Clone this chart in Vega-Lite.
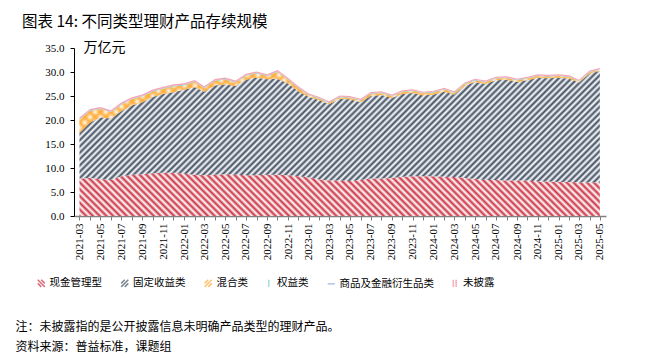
{
"$schema":"https://vega.github.io/schema/vega-lite/v6.json",
"width":532,"height":168,
"autosize":{"type":"none"},
"padding":{"left":74,"top":48,"right":46,"bottom":143},
"background":"#ffffff",
"title":{"text":"图表 14: 不同类型理财产品存续规模","anchor":"start","frame":"group","dx":-52,"dy":-5.5,"fontSize":15.5,"fontWeight":"normal","color":"#000000","font":"Noto Sans CJK SC"},
"config":{"font":"Noto Sans CJK SC","view":{"stroke":null}},
"data":{"values":[
{"d":"2021-03-01","cash":7.8,"fixed":9.5,"mixed":2.8,"equity":0.08,"commodity":0.02,"undisclosed":0.3},
{"d":"2021-04-01","cash":7.9,"fixed":11.6,"mixed":2.4,"equity":0.09,"commodity":0.02,"undisclosed":0.3},
{"d":"2021-05-01","cash":7.7,"fixed":12.8,"mixed":1.8,"equity":0.09,"commodity":0.02,"undisclosed":0.3},
{"d":"2021-06-01","cash":7.5,"fixed":12.8,"mixed":1.3,"equity":0.1,"commodity":0.02,"undisclosed":0.3},
{"d":"2021-07-01","cash":8.3,"fixed":13.5,"mixed":1.4,"equity":0.1,"commodity":0.02,"undisclosed":0.3},
{"d":"2021-08-01","cash":8.6,"fixed":14.4,"mixed":1.3,"equity":0.1,"commodity":0.02,"undisclosed":0.3},
{"d":"2021-09-01","cash":8.7,"fixed":15.0,"mixed":1.2,"equity":0.1,"commodity":0.02,"undisclosed":0.3},
{"d":"2021-10-01","cash":8.9,"fixed":15.9,"mixed":1.1,"equity":0.11,"commodity":0.02,"undisclosed":0.3},
{"d":"2021-11-01","cash":9.0,"fixed":16.4,"mixed":1.1,"equity":0.11,"commodity":0.02,"undisclosed":0.3},
{"d":"2021-12-01","cash":9.0,"fixed":16.8,"mixed":1.2,"equity":0.12,"commodity":0.02,"undisclosed":0.3},
{"d":"2022-01-01","cash":8.8,"fixed":17.5,"mixed":0.9,"equity":0.12,"commodity":0.02,"undisclosed":0.3},
{"d":"2022-02-01","cash":8.6,"fixed":18.2,"mixed":1.1,"equity":0.12,"commodity":0.02,"undisclosed":0.3},
{"d":"2022-03-01","cash":8.5,"fixed":17.4,"mixed":0.7,"equity":0.11,"commodity":0.02,"undisclosed":0.3},
{"d":"2022-04-01","cash":8.6,"fixed":18.6,"mixed":0.9,"equity":0.11,"commodity":0.02,"undisclosed":0.3},
{"d":"2022-05-01","cash":8.7,"fixed":18.7,"mixed":1.0,"equity":0.11,"commodity":0.02,"undisclosed":0.3},
{"d":"2022-06-01","cash":8.6,"fixed":18.5,"mixed":0.7,"equity":0.1,"commodity":0.02,"undisclosed":0.3},
{"d":"2022-07-01","cash":8.5,"fixed":19.9,"mixed":0.8,"equity":0.1,"commodity":0.02,"undisclosed":0.3},
{"d":"2022-08-01","cash":8.5,"fixed":20.3,"mixed":0.9,"equity":0.1,"commodity":0.02,"undisclosed":0.3},
{"d":"2022-09-01","cash":8.6,"fixed":19.9,"mixed":0.6,"equity":0.1,"commodity":0.02,"undisclosed":0.3},
{"d":"2022-10-01","cash":8.6,"fixed":20.0,"mixed":1.4,"equity":0.1,"commodity":0.02,"undisclosed":0.3},
{"d":"2022-11-01","cash":8.5,"fixed":19.1,"mixed":0.8,"equity":0.09,"commodity":0.02,"undisclosed":0.3},
{"d":"2022-12-01","cash":8.3,"fixed":17.7,"mixed":0.6,"equity":0.09,"commodity":0.02,"undisclosed":0.3},
{"d":"2023-01-01","cash":8.0,"fixed":16.8,"mixed":0.35,"equity":0.09,"commodity":0.02,"undisclosed":0.25},
{"d":"2023-02-01","cash":7.6,"fixed":16.5,"mixed":0.35,"equity":0.09,"commodity":0.02,"undisclosed":0.25},
{"d":"2023-03-01","cash":7.4,"fixed":15.9,"mixed":0.25,"equity":0.09,"commodity":0.02,"undisclosed":0.25},
{"d":"2023-04-01","cash":7.4,"fixed":17.0,"mixed":0.35,"equity":0.09,"commodity":0.02,"undisclosed":0.25},
{"d":"2023-05-01","cash":7.3,"fixed":17.0,"mixed":0.35,"equity":0.09,"commodity":0.02,"undisclosed":0.25},
{"d":"2023-06-01","cash":7.5,"fixed":16.2,"mixed":0.35,"equity":0.09,"commodity":0.02,"undisclosed":0.25},
{"d":"2023-07-01","cash":7.8,"fixed":17.2,"mixed":0.45,"equity":0.09,"commodity":0.02,"undisclosed":0.25},
{"d":"2023-08-01","cash":7.8,"fixed":17.4,"mixed":0.45,"equity":0.09,"commodity":0.02,"undisclosed":0.25},
{"d":"2023-09-01","cash":7.9,"fixed":16.7,"mixed":0.35,"equity":0.09,"commodity":0.02,"undisclosed":0.25},
{"d":"2023-10-01","cash":8.2,"fixed":17.2,"mixed":0.45,"equity":0.09,"commodity":0.02,"undisclosed":0.25},
{"d":"2023-11-01","cash":8.3,"fixed":17.3,"mixed":0.45,"equity":0.09,"commodity":0.02,"undisclosed":0.25},
{"d":"2023-12-01","cash":8.3,"fixed":16.8,"mixed":0.45,"equity":0.09,"commodity":0.02,"undisclosed":0.25},
{"d":"2024-01-01","cash":8.3,"fixed":17.0,"mixed":0.45,"equity":0.09,"commodity":0.02,"undisclosed":0.25},
{"d":"2024-02-01","cash":8.2,"fixed":17.7,"mixed":0.45,"equity":0.09,"commodity":0.02,"undisclosed":0.25},
{"d":"2024-03-01","cash":8.1,"fixed":17.2,"mixed":0.35,"equity":0.09,"commodity":0.02,"undisclosed":0.25},
{"d":"2024-04-01","cash":7.9,"fixed":19.2,"mixed":0.35,"equity":0.09,"commodity":0.02,"undisclosed":0.25},
{"d":"2024-05-01","cash":7.7,"fixed":20.2,"mixed":0.35,"equity":0.09,"commodity":0.02,"undisclosed":0.25},
{"d":"2024-06-01","cash":7.5,"fixed":20.0,"mixed":0.35,"equity":0.09,"commodity":0.02,"undisclosed":0.25},
{"d":"2024-07-01","cash":7.5,"fixed":20.8,"mixed":0.35,"equity":0.09,"commodity":0.02,"undisclosed":0.25},
{"d":"2024-08-01","cash":7.4,"fixed":21.0,"mixed":0.35,"equity":0.09,"commodity":0.02,"undisclosed":0.25},
{"d":"2024-09-01","cash":7.4,"fixed":20.5,"mixed":0.35,"equity":0.09,"commodity":0.02,"undisclosed":0.25},
{"d":"2024-10-01","cash":7.4,"fixed":20.9,"mixed":0.35,"equity":0.09,"commodity":0.02,"undisclosed":0.25},
{"d":"2024-11-01","cash":7.2,"fixed":21.6,"mixed":0.35,"equity":0.09,"commodity":0.02,"undisclosed":0.25},
{"d":"2024-12-01","cash":7.2,"fixed":21.5,"mixed":0.35,"equity":0.09,"commodity":0.02,"undisclosed":0.25},
{"d":"2025-01-01","cash":7.1,"fixed":21.7,"mixed":0.35,"equity":0.09,"commodity":0.02,"undisclosed":0.25},
{"d":"2025-02-01","cash":7.1,"fixed":21.5,"mixed":0.35,"equity":0.09,"commodity":0.02,"undisclosed":0.25},
{"d":"2025-03-01","cash":7.0,"fixed":20.8,"mixed":0.25,"equity":0.09,"commodity":0.02,"undisclosed":0.25},
{"d":"2025-04-01","cash":7.0,"fixed":22.7,"mixed":0.25,"equity":0.09,"commodity":0.02,"undisclosed":0.25},
{"d":"2025-05-01","cash":7.0,"fixed":23.2,"mixed":0.25,"equity":0.09,"commodity":0.02,"undisclosed":0.25}
]},
"transform":[
{"fold":["cash","fixed","mixed","equity","commodity","undisclosed"],"as":["key","v"]},
{"stack":"v","groupby":["d"],"as":["y0","y1"]}
],
"encoding":{
"x":{"field":"d","type":"temporal","scale":{"type":"utc","domain":[{"year":2021,"month":2,"date":13,"utc":true},{"year":2025,"month":5,"date":19,"utc":true}]},
"axis":{"title":["注：未披露指的是公开披露信息未明确产品类型的理财产品。","资料来源：普益标准，课题组"],"titleAnchor":"start","titleAlign":"left","titleBaseline":"top","titleX":-59,"titleY":105,"titleFontSize":12,"titleFontWeight":"normal","titleColor":"#000000","titleLineHeight":20.5,"tickCount":{"interval":"month","step":1},"labelExpr":"utcmonth(datum.value) % 2 == 0 ? utcFormat(datum.value, '%Y-%m') : ''","labelAngle":270,"labelOverlap":false,"labelFont":"Liberation Serif","labelFontSize":11,"labelColor":"#000000","labelPadding":3,"domainColor":"#808080","domainWidth":1.5,"tickColor":"#808080","tickSize":4,"grid":false}},
"y":{"field":"y1","type":"quantitative","scale":{"domain":[0,35],"nice":false,"zero":true},
"axis":{"title":"万亿元","titleAngle":0,"titleAlign":"left","titleBaseline":"middle","titleX":9,"titleY":-1,"titleFontSize":14,"titleFontWeight":"normal","titleColor":"#000000","values":[0,5,10,15,20,25,30,35],"format":".1f","labelFont":"Liberation Serif","labelFontSize":11,"labelColor":"#000000","labelPadding":6,"domainColor":"#000000","tickColor":"#000000","tickSize":4,"grid":false}}
},
"layer":[
{"transform":[{"filter":"datum.key == 'cash'"}],
"mark":{"type":"area","interpolate":"linear","strokeWidth":0,"fill":{"gradient":"linear","x1":0,"y1":1,"x2":1.0757,"y2":0.9106,"stops":[
{"offset":0,"color":"#c34"},{"offset":0.006,"color":"#fff"},{"offset":0.012,"color":"#c34"},{"offset":0.018,"color":"#fff"},{"offset":0.024,"color":"#c34"},{"offset":0.03,"color":"#fff"},{"offset":0.036,"color":"#c34"},{"offset":0.042,"color":"#fff"},{"offset":0.048,"color":"#c34"},{"offset":0.054,"color":"#fff"},
{"offset":0.06,"color":"#c34"},{"offset":0.066,"color":"#fff"},{"offset":0.072,"color":"#c34"},{"offset":0.078,"color":"#fff"},{"offset":0.084,"color":"#c34"},{"offset":0.09,"color":"#fff"},{"offset":0.096,"color":"#c34"},{"offset":0.102,"color":"#fff"},{"offset":0.108,"color":"#c34"},{"offset":0.114,"color":"#fff"},
{"offset":0.12,"color":"#c34"},{"offset":0.126,"color":"#fff"},{"offset":0.132,"color":"#c34"},{"offset":0.138,"color":"#fff"},{"offset":0.144,"color":"#c34"},{"offset":0.15,"color":"#fff"},{"offset":0.156,"color":"#c34"},{"offset":0.162,"color":"#fff"},{"offset":0.168,"color":"#c34"},{"offset":0.174,"color":"#fff"},
{"offset":0.18,"color":"#c34"},{"offset":0.186,"color":"#fff"},{"offset":0.192,"color":"#c34"},{"offset":0.198,"color":"#fff"},{"offset":0.204,"color":"#c34"},{"offset":0.21,"color":"#fff"},{"offset":0.216,"color":"#c34"},{"offset":0.222,"color":"#fff"},{"offset":0.228,"color":"#c34"},{"offset":0.234,"color":"#fff"},
{"offset":0.24,"color":"#c34"},{"offset":0.246,"color":"#fff"},{"offset":0.252,"color":"#c34"},{"offset":0.258,"color":"#fff"},{"offset":0.264,"color":"#c34"},{"offset":0.27,"color":"#fff"},{"offset":0.276,"color":"#c34"},{"offset":0.282,"color":"#fff"},{"offset":0.288,"color":"#c34"},{"offset":0.294,"color":"#fff"},
{"offset":0.3,"color":"#c34"},{"offset":0.306,"color":"#fff"},{"offset":0.312,"color":"#c34"},{"offset":0.318,"color":"#fff"},{"offset":0.324,"color":"#c34"},{"offset":0.33,"color":"#fff"},{"offset":0.336,"color":"#c34"},{"offset":0.342,"color":"#fff"},{"offset":0.348,"color":"#c34"},{"offset":0.354,"color":"#fff"},
{"offset":0.36,"color":"#c34"},{"offset":0.366,"color":"#fff"},{"offset":0.372,"color":"#c34"},{"offset":0.378,"color":"#fff"},{"offset":0.384,"color":"#c34"},{"offset":0.39,"color":"#fff"},{"offset":0.396,"color":"#c34"},{"offset":0.402,"color":"#fff"},{"offset":0.408,"color":"#c34"},{"offset":0.414,"color":"#fff"},
{"offset":0.42,"color":"#c34"},{"offset":0.426,"color":"#fff"},{"offset":0.432,"color":"#c34"},{"offset":0.438,"color":"#fff"},{"offset":0.444,"color":"#c34"},{"offset":0.45,"color":"#fff"},{"offset":0.456,"color":"#c34"},{"offset":0.462,"color":"#fff"},{"offset":0.468,"color":"#c34"},{"offset":0.474,"color":"#fff"},
{"offset":0.48,"color":"#c34"},{"offset":0.486,"color":"#fff"},{"offset":0.492,"color":"#c34"},{"offset":0.498,"color":"#fff"},{"offset":0.504,"color":"#c34"},{"offset":0.51,"color":"#fff"},{"offset":0.516,"color":"#c34"},{"offset":0.522,"color":"#fff"},{"offset":0.528,"color":"#c34"},{"offset":0.534,"color":"#fff"},
{"offset":0.54,"color":"#c34"},{"offset":0.546,"color":"#fff"},{"offset":0.552,"color":"#c34"},{"offset":0.558,"color":"#fff"},{"offset":0.564,"color":"#c34"},{"offset":0.57,"color":"#fff"},{"offset":0.576,"color":"#c34"},{"offset":0.582,"color":"#fff"},{"offset":0.588,"color":"#c34"},{"offset":0.594,"color":"#fff"},
{"offset":0.6,"color":"#c34"},{"offset":0.606,"color":"#fff"},{"offset":0.612,"color":"#c34"},{"offset":0.618,"color":"#fff"},{"offset":0.624,"color":"#c34"},{"offset":0.63,"color":"#fff"},{"offset":0.636,"color":"#c34"},{"offset":0.642,"color":"#fff"},{"offset":0.648,"color":"#c34"},{"offset":0.654,"color":"#fff"},
{"offset":0.66,"color":"#c34"},{"offset":0.666,"color":"#fff"},{"offset":0.672,"color":"#c34"},{"offset":0.678,"color":"#fff"},{"offset":0.684,"color":"#c34"},{"offset":0.69,"color":"#fff"},{"offset":0.696,"color":"#c34"},{"offset":0.702,"color":"#fff"},{"offset":0.708,"color":"#c34"},{"offset":0.714,"color":"#fff"},
{"offset":0.72,"color":"#c34"},{"offset":0.726,"color":"#fff"},{"offset":0.732,"color":"#c34"},{"offset":0.738,"color":"#fff"},{"offset":0.744,"color":"#c34"},{"offset":0.75,"color":"#fff"},{"offset":0.756,"color":"#c34"},{"offset":0.762,"color":"#fff"},{"offset":0.768,"color":"#c34"},{"offset":0.774,"color":"#fff"},
{"offset":0.78,"color":"#c34"},{"offset":0.786,"color":"#fff"},{"offset":0.792,"color":"#c34"},{"offset":0.798,"color":"#fff"},{"offset":0.804,"color":"#c34"},{"offset":0.81,"color":"#fff"},{"offset":0.816,"color":"#c34"},{"offset":0.822,"color":"#fff"},{"offset":0.828,"color":"#c34"},{"offset":0.834,"color":"#fff"},
{"offset":0.84,"color":"#c34"},{"offset":0.846,"color":"#fff"},{"offset":0.852,"color":"#c34"},{"offset":0.858,"color":"#fff"},{"offset":0.864,"color":"#c34"},{"offset":0.87,"color":"#fff"},{"offset":0.876,"color":"#c34"},{"offset":0.882,"color":"#fff"},{"offset":0.888,"color":"#c34"},{"offset":0.894,"color":"#fff"},
{"offset":0.9,"color":"#c34"},{"offset":0.906,"color":"#fff"},{"offset":0.912,"color":"#c34"},{"offset":0.918,"color":"#fff"},{"offset":0.924,"color":"#c34"},{"offset":0.93,"color":"#fff"},{"offset":0.936,"color":"#c34"},{"offset":0.942,"color":"#fff"},{"offset":0.948,"color":"#c34"},{"offset":0.954,"color":"#fff"},
{"offset":0.96,"color":"#c34"},{"offset":0.966,"color":"#fff"},{"offset":0.972,"color":"#c34"},{"offset":0.978,"color":"#fff"},{"offset":0.984,"color":"#c34"},{"offset":0.99,"color":"#fff"},{"offset":0.996,"color":"#c34"}
]}},
"encoding":{"y2":{"field":"y0"}}},
{"transform":[{"filter":"datum.key == 'fixed'"}],
"mark":{"type":"area","interpolate":"linear","strokeWidth":0,"fill":{"gradient":"linear","x1":0,"y1":0,"x2":1.161,"y2":0.2487,"stops":[
{"offset":0,"color":"#3f4e62"},{"offset":0.005,"color":"#fff"},{"offset":0.01,"color":"#3f4e62"},{"offset":0.015,"color":"#fff"},{"offset":0.02,"color":"#3f4e62"},{"offset":0.025,"color":"#fff"},{"offset":0.03,"color":"#3f4e62"},{"offset":0.035,"color":"#fff"},{"offset":0.04,"color":"#3f4e62"},{"offset":0.045,"color":"#fff"},
{"offset":0.05,"color":"#3f4e62"},{"offset":0.055,"color":"#fff"},{"offset":0.06,"color":"#3f4e62"},{"offset":0.065,"color":"#fff"},{"offset":0.07,"color":"#3f4e62"},{"offset":0.075,"color":"#fff"},{"offset":0.08,"color":"#3f4e62"},{"offset":0.085,"color":"#fff"},{"offset":0.09,"color":"#3f4e62"},{"offset":0.095,"color":"#fff"},
{"offset":0.1,"color":"#3f4e62"},{"offset":0.105,"color":"#fff"},{"offset":0.11,"color":"#3f4e62"},{"offset":0.115,"color":"#fff"},{"offset":0.12,"color":"#3f4e62"},{"offset":0.125,"color":"#fff"},{"offset":0.13,"color":"#3f4e62"},{"offset":0.135,"color":"#fff"},{"offset":0.14,"color":"#3f4e62"},{"offset":0.145,"color":"#fff"},
{"offset":0.15,"color":"#3f4e62"},{"offset":0.155,"color":"#fff"},{"offset":0.16,"color":"#3f4e62"},{"offset":0.165,"color":"#fff"},{"offset":0.17,"color":"#3f4e62"},{"offset":0.175,"color":"#fff"},{"offset":0.18,"color":"#3f4e62"},{"offset":0.185,"color":"#fff"},{"offset":0.19,"color":"#3f4e62"},{"offset":0.195,"color":"#fff"},
{"offset":0.2,"color":"#3f4e62"},{"offset":0.205,"color":"#fff"},{"offset":0.21,"color":"#3f4e62"},{"offset":0.215,"color":"#fff"},{"offset":0.22,"color":"#3f4e62"},{"offset":0.225,"color":"#fff"},{"offset":0.23,"color":"#3f4e62"},{"offset":0.235,"color":"#fff"},{"offset":0.24,"color":"#3f4e62"},{"offset":0.245,"color":"#fff"},
{"offset":0.25,"color":"#3f4e62"},{"offset":0.255,"color":"#fff"},{"offset":0.26,"color":"#3f4e62"},{"offset":0.265,"color":"#fff"},{"offset":0.27,"color":"#3f4e62"},{"offset":0.275,"color":"#fff"},{"offset":0.28,"color":"#3f4e62"},{"offset":0.285,"color":"#fff"},{"offset":0.29,"color":"#3f4e62"},{"offset":0.295,"color":"#fff"},
{"offset":0.3,"color":"#3f4e62"},{"offset":0.305,"color":"#fff"},{"offset":0.31,"color":"#3f4e62"},{"offset":0.315,"color":"#fff"},{"offset":0.32,"color":"#3f4e62"},{"offset":0.325,"color":"#fff"},{"offset":0.33,"color":"#3f4e62"},{"offset":0.335,"color":"#fff"},{"offset":0.34,"color":"#3f4e62"},{"offset":0.345,"color":"#fff"},
{"offset":0.35,"color":"#3f4e62"},{"offset":0.355,"color":"#fff"},{"offset":0.36,"color":"#3f4e62"},{"offset":0.365,"color":"#fff"},{"offset":0.37,"color":"#3f4e62"},{"offset":0.375,"color":"#fff"},{"offset":0.38,"color":"#3f4e62"},{"offset":0.385,"color":"#fff"},{"offset":0.39,"color":"#3f4e62"},{"offset":0.395,"color":"#fff"},
{"offset":0.4,"color":"#3f4e62"},{"offset":0.405,"color":"#fff"},{"offset":0.41,"color":"#3f4e62"},{"offset":0.415,"color":"#fff"},{"offset":0.42,"color":"#3f4e62"},{"offset":0.425,"color":"#fff"},{"offset":0.43,"color":"#3f4e62"},{"offset":0.435,"color":"#fff"},{"offset":0.44,"color":"#3f4e62"},{"offset":0.445,"color":"#fff"},
{"offset":0.45,"color":"#3f4e62"},{"offset":0.455,"color":"#fff"},{"offset":0.46,"color":"#3f4e62"},{"offset":0.465,"color":"#fff"},{"offset":0.47,"color":"#3f4e62"},{"offset":0.475,"color":"#fff"},{"offset":0.48,"color":"#3f4e62"},{"offset":0.485,"color":"#fff"},{"offset":0.49,"color":"#3f4e62"},{"offset":0.495,"color":"#fff"},
{"offset":0.5,"color":"#3f4e62"},{"offset":0.505,"color":"#fff"},{"offset":0.51,"color":"#3f4e62"},{"offset":0.515,"color":"#fff"},{"offset":0.52,"color":"#3f4e62"},{"offset":0.525,"color":"#fff"},{"offset":0.53,"color":"#3f4e62"},{"offset":0.535,"color":"#fff"},{"offset":0.54,"color":"#3f4e62"},{"offset":0.545,"color":"#fff"},
{"offset":0.55,"color":"#3f4e62"},{"offset":0.555,"color":"#fff"},{"offset":0.56,"color":"#3f4e62"},{"offset":0.565,"color":"#fff"},{"offset":0.57,"color":"#3f4e62"},{"offset":0.575,"color":"#fff"},{"offset":0.58,"color":"#3f4e62"},{"offset":0.585,"color":"#fff"},{"offset":0.59,"color":"#3f4e62"},{"offset":0.595,"color":"#fff"},
{"offset":0.6,"color":"#3f4e62"},{"offset":0.605,"color":"#fff"},{"offset":0.61,"color":"#3f4e62"},{"offset":0.615,"color":"#fff"},{"offset":0.62,"color":"#3f4e62"},{"offset":0.625,"color":"#fff"},{"offset":0.63,"color":"#3f4e62"},{"offset":0.635,"color":"#fff"},{"offset":0.64,"color":"#3f4e62"},{"offset":0.645,"color":"#fff"},
{"offset":0.65,"color":"#3f4e62"},{"offset":0.655,"color":"#fff"},{"offset":0.66,"color":"#3f4e62"},{"offset":0.665,"color":"#fff"},{"offset":0.67,"color":"#3f4e62"},{"offset":0.675,"color":"#fff"},{"offset":0.68,"color":"#3f4e62"},{"offset":0.685,"color":"#fff"},{"offset":0.69,"color":"#3f4e62"},{"offset":0.695,"color":"#fff"},
{"offset":0.7,"color":"#3f4e62"},{"offset":0.705,"color":"#fff"},{"offset":0.71,"color":"#3f4e62"},{"offset":0.715,"color":"#fff"},{"offset":0.72,"color":"#3f4e62"},{"offset":0.725,"color":"#fff"},{"offset":0.73,"color":"#3f4e62"},{"offset":0.735,"color":"#fff"},{"offset":0.74,"color":"#3f4e62"},{"offset":0.745,"color":"#fff"},
{"offset":0.75,"color":"#3f4e62"},{"offset":0.755,"color":"#fff"},{"offset":0.76,"color":"#3f4e62"},{"offset":0.765,"color":"#fff"},{"offset":0.77,"color":"#3f4e62"},{"offset":0.775,"color":"#fff"},{"offset":0.78,"color":"#3f4e62"},{"offset":0.785,"color":"#fff"},{"offset":0.79,"color":"#3f4e62"},{"offset":0.795,"color":"#fff"},
{"offset":0.8,"color":"#3f4e62"},{"offset":0.805,"color":"#fff"},{"offset":0.81,"color":"#3f4e62"},{"offset":0.815,"color":"#fff"},{"offset":0.82,"color":"#3f4e62"},{"offset":0.825,"color":"#fff"},{"offset":0.83,"color":"#3f4e62"},{"offset":0.835,"color":"#fff"},{"offset":0.84,"color":"#3f4e62"},{"offset":0.845,"color":"#fff"},
{"offset":0.85,"color":"#3f4e62"},{"offset":0.855,"color":"#fff"},{"offset":0.86,"color":"#3f4e62"},{"offset":0.865,"color":"#fff"},{"offset":0.87,"color":"#3f4e62"},{"offset":0.875,"color":"#fff"},{"offset":0.88,"color":"#3f4e62"},{"offset":0.885,"color":"#fff"},{"offset":0.89,"color":"#3f4e62"},{"offset":0.895,"color":"#fff"},
{"offset":0.9,"color":"#3f4e62"},{"offset":0.905,"color":"#fff"},{"offset":0.91,"color":"#3f4e62"},{"offset":0.915,"color":"#fff"},{"offset":0.92,"color":"#3f4e62"},{"offset":0.925,"color":"#fff"},{"offset":0.93,"color":"#3f4e62"},{"offset":0.935,"color":"#fff"},{"offset":0.94,"color":"#3f4e62"},{"offset":0.945,"color":"#fff"},
{"offset":0.95,"color":"#3f4e62"},{"offset":0.955,"color":"#fff"},{"offset":0.96,"color":"#3f4e62"},{"offset":0.965,"color":"#fff"},{"offset":0.97,"color":"#3f4e62"},{"offset":0.975,"color":"#fff"},{"offset":0.98,"color":"#3f4e62"},{"offset":0.985,"color":"#fff"},{"offset":0.99,"color":"#3f4e62"},{"offset":0.995,"color":"#fff"},
{"offset":1,"color":"#3f4e62"}
]}},
"encoding":{"y2":{"field":"y0"}}},
{"transform":[{"filter":"datum.key == 'mixed'"}],
"mark":{"type":"area","interpolate":"linear","strokeWidth":0,"fill":{"gradient":"linear","x1":0,"y1":0,"x2":1.1048,"y2":0.1336,"stops":[
{"offset":0,"color":"#fa3d"},{"offset":0.009,"color":"#fa30"},{"offset":0.018,"color":"#fa3d"},{"offset":0.027,"color":"#fa30"},{"offset":0.036,"color":"#fa3d"},{"offset":0.045,"color":"#fa30"},{"offset":0.054,"color":"#fa3d"},{"offset":0.063,"color":"#fa30"},{"offset":0.072,"color":"#fa3d"},{"offset":0.081,"color":"#fa30"},
{"offset":0.09,"color":"#fa3d"},{"offset":0.099,"color":"#fa30"},{"offset":0.108,"color":"#fa3d"},{"offset":0.117,"color":"#fa30"},{"offset":0.126,"color":"#fa3d"},{"offset":0.135,"color":"#fa30"},{"offset":0.144,"color":"#fa3d"},{"offset":0.153,"color":"#fa30"},{"offset":0.162,"color":"#fa3d"},{"offset":0.171,"color":"#fa30"},
{"offset":0.18,"color":"#fa3d"},{"offset":0.189,"color":"#fa30"},{"offset":0.198,"color":"#fa3d"},{"offset":0.207,"color":"#fa30"},{"offset":0.216,"color":"#fa3d"},{"offset":0.225,"color":"#fa30"},{"offset":0.234,"color":"#fa3d"},{"offset":0.243,"color":"#fa30"},{"offset":0.252,"color":"#fa3d"},{"offset":0.261,"color":"#fa30"},
{"offset":0.27,"color":"#fa3d"},{"offset":0.279,"color":"#fa30"},{"offset":0.288,"color":"#fa3d"},{"offset":0.297,"color":"#fa30"},{"offset":0.306,"color":"#fa3d"},{"offset":0.315,"color":"#fa30"},{"offset":0.324,"color":"#fa3d"},{"offset":0.333,"color":"#fa30"},{"offset":0.342,"color":"#fa3d"},{"offset":0.351,"color":"#fa30"},
{"offset":0.36,"color":"#fa3d"},{"offset":0.369,"color":"#fa30"},{"offset":0.378,"color":"#fa3d"},{"offset":0.387,"color":"#fa30"},{"offset":0.396,"color":"#fa3d"},{"offset":0.405,"color":"#fa30"},{"offset":0.414,"color":"#fa3d"},{"offset":0.423,"color":"#fa30"},{"offset":0.432,"color":"#fa3d"},{"offset":0.441,"color":"#fa30"},
{"offset":0.45,"color":"#fa3d"},{"offset":0.459,"color":"#fa30"},{"offset":0.468,"color":"#fa3d"},{"offset":0.477,"color":"#fa30"},{"offset":0.486,"color":"#fa3d"},{"offset":0.495,"color":"#fa30"},{"offset":0.504,"color":"#fa3d"},{"offset":0.513,"color":"#fa30"},{"offset":0.522,"color":"#fa3d"},{"offset":0.531,"color":"#fa30"},
{"offset":0.54,"color":"#fa3d"},{"offset":0.549,"color":"#fa30"},{"offset":0.558,"color":"#fa3d"},{"offset":0.567,"color":"#fa30"},{"offset":0.576,"color":"#fa3d"},{"offset":0.585,"color":"#fa30"},{"offset":0.594,"color":"#fa3d"},{"offset":0.603,"color":"#fa30"},{"offset":0.612,"color":"#fa3d"},{"offset":0.621,"color":"#fa30"},
{"offset":0.63,"color":"#fa3d"},{"offset":0.639,"color":"#fa30"},{"offset":0.648,"color":"#fa3d"},{"offset":0.657,"color":"#fa30"},{"offset":0.666,"color":"#fa3d"},{"offset":0.675,"color":"#fa30"},{"offset":0.684,"color":"#fa3d"},{"offset":0.693,"color":"#fa30"},{"offset":0.702,"color":"#fa3d"},{"offset":0.711,"color":"#fa30"},
{"offset":0.72,"color":"#fa3d"},{"offset":0.729,"color":"#fa30"},{"offset":0.738,"color":"#fa3d"},{"offset":0.747,"color":"#fa30"},{"offset":0.756,"color":"#fa3d"},{"offset":0.765,"color":"#fa30"},{"offset":0.774,"color":"#fa3d"},{"offset":0.783,"color":"#fa30"},{"offset":0.792,"color":"#fa3d"},{"offset":0.801,"color":"#fa30"},
{"offset":0.81,"color":"#fa3d"},{"offset":0.819,"color":"#fa30"},{"offset":0.828,"color":"#fa3d"},{"offset":0.837,"color":"#fa30"},{"offset":0.846,"color":"#fa3d"},{"offset":0.855,"color":"#fa30"},{"offset":0.864,"color":"#fa3d"},{"offset":0.873,"color":"#fa30"},{"offset":0.882,"color":"#fa3d"},{"offset":0.891,"color":"#fa30"},
{"offset":0.9,"color":"#fa3d"},{"offset":0.909,"color":"#fa30"},{"offset":0.918,"color":"#fa3d"},{"offset":0.927,"color":"#fa30"},{"offset":0.936,"color":"#fa3d"},{"offset":0.945,"color":"#fa30"},{"offset":0.954,"color":"#fa3d"},{"offset":0.963,"color":"#fa30"},{"offset":0.972,"color":"#fa3d"},{"offset":0.981,"color":"#fa30"},
{"offset":0.99,"color":"#fa3d"},{"offset":0.999,"color":"#fa30"}
]}},
"encoding":{"y2":{"field":"y0"}}},
{"transform":[{"filter":"datum.key == 'mixed'"}],
"mark":{"type":"area","interpolate":"linear","strokeWidth":0,"fill":{"gradient":"linear","x1":0,"y1":1,"x2":1.1048,"y2":0.8664,"stops":[
{"offset":0,"color":"#fa3d"},{"offset":0.009,"color":"#fa30"},{"offset":0.018,"color":"#fa3d"},{"offset":0.027,"color":"#fa30"},{"offset":0.036,"color":"#fa3d"},{"offset":0.045,"color":"#fa30"},{"offset":0.054,"color":"#fa3d"},{"offset":0.063,"color":"#fa30"},{"offset":0.072,"color":"#fa3d"},{"offset":0.081,"color":"#fa30"},
{"offset":0.09,"color":"#fa3d"},{"offset":0.099,"color":"#fa30"},{"offset":0.108,"color":"#fa3d"},{"offset":0.117,"color":"#fa30"},{"offset":0.126,"color":"#fa3d"},{"offset":0.135,"color":"#fa30"},{"offset":0.144,"color":"#fa3d"},{"offset":0.153,"color":"#fa30"},{"offset":0.162,"color":"#fa3d"},{"offset":0.171,"color":"#fa30"},
{"offset":0.18,"color":"#fa3d"},{"offset":0.189,"color":"#fa30"},{"offset":0.198,"color":"#fa3d"},{"offset":0.207,"color":"#fa30"},{"offset":0.216,"color":"#fa3d"},{"offset":0.225,"color":"#fa30"},{"offset":0.234,"color":"#fa3d"},{"offset":0.243,"color":"#fa30"},{"offset":0.252,"color":"#fa3d"},{"offset":0.261,"color":"#fa30"},
{"offset":0.27,"color":"#fa3d"},{"offset":0.279,"color":"#fa30"},{"offset":0.288,"color":"#fa3d"},{"offset":0.297,"color":"#fa30"},{"offset":0.306,"color":"#fa3d"},{"offset":0.315,"color":"#fa30"},{"offset":0.324,"color":"#fa3d"},{"offset":0.333,"color":"#fa30"},{"offset":0.342,"color":"#fa3d"},{"offset":0.351,"color":"#fa30"},
{"offset":0.36,"color":"#fa3d"},{"offset":0.369,"color":"#fa30"},{"offset":0.378,"color":"#fa3d"},{"offset":0.387,"color":"#fa30"},{"offset":0.396,"color":"#fa3d"},{"offset":0.405,"color":"#fa30"},{"offset":0.414,"color":"#fa3d"},{"offset":0.423,"color":"#fa30"},{"offset":0.432,"color":"#fa3d"},{"offset":0.441,"color":"#fa30"},
{"offset":0.45,"color":"#fa3d"},{"offset":0.459,"color":"#fa30"},{"offset":0.468,"color":"#fa3d"},{"offset":0.477,"color":"#fa30"},{"offset":0.486,"color":"#fa3d"},{"offset":0.495,"color":"#fa30"},{"offset":0.504,"color":"#fa3d"},{"offset":0.513,"color":"#fa30"},{"offset":0.522,"color":"#fa3d"},{"offset":0.531,"color":"#fa30"},
{"offset":0.54,"color":"#fa3d"},{"offset":0.549,"color":"#fa30"},{"offset":0.558,"color":"#fa3d"},{"offset":0.567,"color":"#fa30"},{"offset":0.576,"color":"#fa3d"},{"offset":0.585,"color":"#fa30"},{"offset":0.594,"color":"#fa3d"},{"offset":0.603,"color":"#fa30"},{"offset":0.612,"color":"#fa3d"},{"offset":0.621,"color":"#fa30"},
{"offset":0.63,"color":"#fa3d"},{"offset":0.639,"color":"#fa30"},{"offset":0.648,"color":"#fa3d"},{"offset":0.657,"color":"#fa30"},{"offset":0.666,"color":"#fa3d"},{"offset":0.675,"color":"#fa30"},{"offset":0.684,"color":"#fa3d"},{"offset":0.693,"color":"#fa30"},{"offset":0.702,"color":"#fa3d"},{"offset":0.711,"color":"#fa30"},
{"offset":0.72,"color":"#fa3d"},{"offset":0.729,"color":"#fa30"},{"offset":0.738,"color":"#fa3d"},{"offset":0.747,"color":"#fa30"},{"offset":0.756,"color":"#fa3d"},{"offset":0.765,"color":"#fa30"},{"offset":0.774,"color":"#fa3d"},{"offset":0.783,"color":"#fa30"},{"offset":0.792,"color":"#fa3d"},{"offset":0.801,"color":"#fa30"},
{"offset":0.81,"color":"#fa3d"},{"offset":0.819,"color":"#fa30"},{"offset":0.828,"color":"#fa3d"},{"offset":0.837,"color":"#fa30"},{"offset":0.846,"color":"#fa3d"},{"offset":0.855,"color":"#fa30"},{"offset":0.864,"color":"#fa3d"},{"offset":0.873,"color":"#fa30"},{"offset":0.882,"color":"#fa3d"},{"offset":0.891,"color":"#fa30"},
{"offset":0.9,"color":"#fa3d"},{"offset":0.909,"color":"#fa30"},{"offset":0.918,"color":"#fa3d"},{"offset":0.927,"color":"#fa30"},{"offset":0.936,"color":"#fa3d"},{"offset":0.945,"color":"#fa30"},{"offset":0.954,"color":"#fa3d"},{"offset":0.963,"color":"#fa30"},{"offset":0.972,"color":"#fa3d"},{"offset":0.981,"color":"#fa30"},
{"offset":0.99,"color":"#fa3d"},{"offset":0.999,"color":"#fa30"}
]}},
"encoding":{"y2":{"field":"y0"}}},
{"transform":[{"filter":"datum.key == 'equity'"}],
"mark":{"type":"area","interpolate":"linear","strokeWidth":0,"fill":"#7fcfcf"},
"encoding":{"y2":{"field":"y0"}}},
{"transform":[{"filter":"datum.key == 'commodity'"}],
"mark":{"type":"area","interpolate":"linear","strokeWidth":0,"fill":"#8eaadb"},
"encoding":{"y2":{"field":"y0"}}},
{"transform":[{"filter":"datum.key == 'undisclosed'"}],
"mark":{"type":"area","interpolate":"linear","strokeWidth":0,"fill":"#f6a5b5"},
"encoding":{"y2":{"field":"y0"}}},
{"transform":[{"filter":"false"}],
"mark":{"type":"point","filled":false},
"encoding":{
"color":{"field":"key","type":"nominal","scale":{"domain":["现金管理型","固定收益类","混合类","权益类","商品及金融衍生品类","未披露"],"range":["#c34","#456","#fa3","#7fcfcf","#8eaadb","#f28a9e"]},
"legend":{"orient":"none","legendX":-38,"legendY":230,"direction":"horizontal","title":null,"labelFontSize":10.5,"labelFont":"Noto Sans CJK SC","labelColor":"#000000","symbolSize":50,"symbolStrokeWidth":1.5,"columnPadding":15.5,"labelOffset":3}},
"shape":{"field":"key","type":"nominal","scale":{"domain":["现金管理型","固定收益类","混合类","权益类","商品及金融衍生品类","未披露"],"range":["M-1,-1L1,1M-1,0L0,1M0,-1L1,0","M-1,1L1,-1M-1,0L0,-1M0,1L1,0","M-1,1L1,-1M-1,0L0,-1M0,1L1,0","M0,-1L0,1","M-1,0L1,0","M-0.4,-1L-0.4,1M0.4,-1L0.4,1"]}}
}}
]
}
